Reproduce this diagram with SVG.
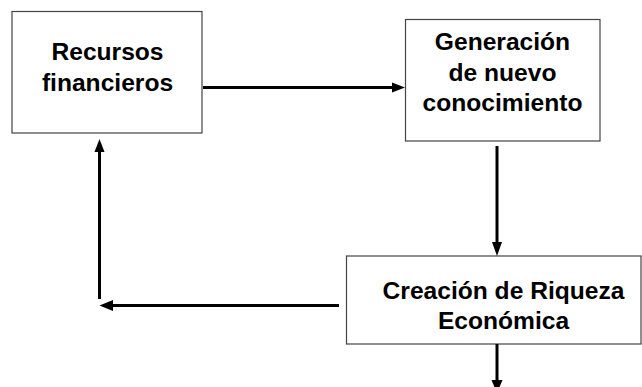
<svg xmlns="http://www.w3.org/2000/svg" width="642" height="387" viewBox="0 0 642 387">
<defs>
<style>
.box{fill:#fff;stroke:#444;stroke-width:1.2}
.t{font-family:"Liberation Sans",Arial,sans-serif;font-weight:bold;font-size:24.6px;fill:#000;text-anchor:middle}
.c{stroke:#000;stroke-width:3;fill:none}
.ah{fill:#000}
</style>
</defs>
<rect width="642" height="387" fill="#fff"/>
<g id="recursos">
<rect class="box" x="12" y="11.5" width="190" height="121.5"/>
<text class="t" x="107.5" y="60">Recursos</text>
<text class="t" x="107.5" y="91">financieros</text>
</g>
<g id="generacion">
<rect class="box" x="405.5" y="19.5" width="194.5" height="121.5"/>
<text class="t" x="502.5" y="50">Generación</text>
<text class="t" x="502.5" y="81">de nuevo</text>
<text class="t" x="502.5" y="111">conocimiento</text>
</g>
<g id="creacion">
<rect class="box" x="346.5" y="256" width="294.5" height="88"/>
<text class="t" x="503.5" y="299">Creación de Riqueza</text>
<text class="t" x="503.5" y="329">Económica</text>
</g>
<g id="connectors">
<line class="c" x1="203" y1="87.5" x2="393" y2="87.5"/>
<polygon class="ah" points="405,87.5 392,82.5 392,92.5"/>
<line class="c" x1="497" y1="146" x2="497" y2="243"/>
<polygon class="ah" points="497,256 492,242 502,242"/>
<line class="c" x1="339" y1="305.5" x2="112" y2="305.5"/>
<polygon class="ah" points="99.5,305.5 113,300 113,311"/>
<line class="c" x1="99.5" y1="299" x2="99.5" y2="151"/>
<polygon class="ah" points="99.5,139 94.5,152 104.5,152"/>
<line class="c" x1="497" y1="344" x2="497" y2="381"/>
<polygon class="ah" points="497,393 491.5,380 502.5,380"/>
</g>
</svg>
